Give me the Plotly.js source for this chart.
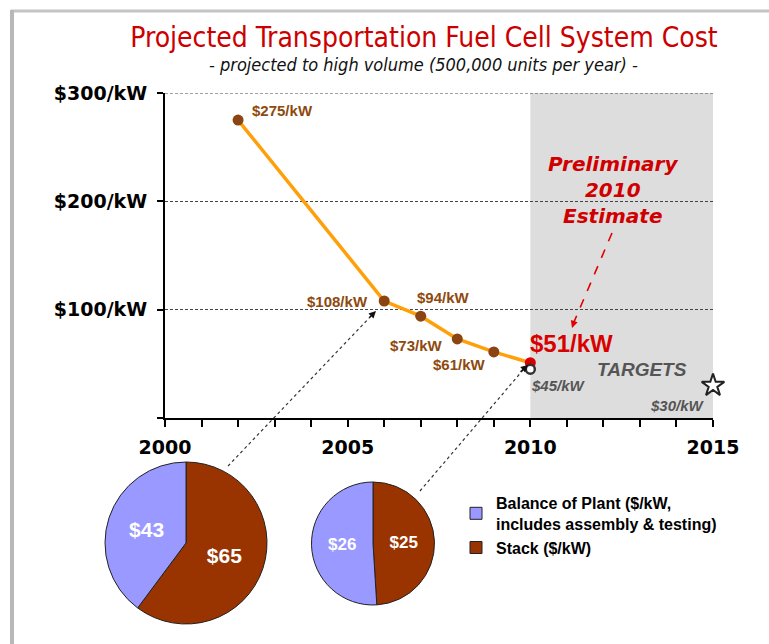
<!DOCTYPE html>
<html>
<head>
<meta charset="utf-8">
<script src="https://cdn.plot.ly/plotly-3.0.1.min.js"></script>
<style>html,body{margin:0;padding:0;background:#fff;}#chart{width:769px;height:644px;}</style>
</head>
<body>
<div id="chart"></div>
<script>
// ---- data ----
var years = [2002, 2006, 2007, 2008, 2009, 2010];
var costs = [275, 108, 94, 73, 61, 51];
var targetYears = [2010, 2015];
var targetCosts = [45, 30];
var pieLabels = ['Stack ($/kW)', 'Balance of Plant ($/kW,<br>includes assembly & testing)'];
var pie2006 = [65, 43];
var pie2010 = [25, 26];
var xTickVals = [2000,2001,2002,2003,2004,2005,2006,2007,2008,2009,2010,2011,2012,2013,2014,2015];
var xTickText = ['2000','','','','','2005','','','','','2010','','','','','2015'];
var yTickVals = [0, 100, 200, 300];
var yTickText = ['', '$100/kW', '$200/kW', '$300/kW'];
var estimateText = 'Preliminary<br>2010<br>Estimate';

var BROWN = '#8E4A0E';
var RED = '#D90000';
var GRAY = '#555555';

function lbl(v){ return '$' + v + '/kW'; }

var markerColors = costs.map(function(c, i){ return i === costs.length - 1 ? RED : '#8B4513'; });

var traces = [
  {
    type: 'scatter', mode: 'lines+markers', x: years, y: costs,
    line: {color: '#FFA00A', width: 3.5},
    marker: {color: markerColors, size: 11},
    cliponaxis: false, hoverinfo: 'skip', showlegend: false
  },
  {
    type: 'scatter', mode: 'markers', x: [targetYears[0]], y: [targetCosts[0]],
    marker: {symbol: 'circle', color: '#ffffff', size: 9, line: {color: '#333', width: 2.5}},
    cliponaxis: false, hoverinfo: 'skip', showlegend: false
  },
  {
    type: 'scatter', mode: 'markers', x: [targetYears[1]], y: [targetCosts[1]],
    marker: {symbol: 'star', color: '#ffffff', size: 17, line: {color: '#222', width: 2}},
    cliponaxis: false, hoverinfo: 'skip', showlegend: false
  },
  {
    type: 'pie', labels: pieLabels, values: pie2006,
    text: pie2006.map(function(v){ return '$' + v; }), textinfo: 'text',
    textposition: 'inside', insidetextorientation: 'horizontal',
    textfont: {family: 'Liberation Sans, Arial, sans-serif', size: 21, color: '#fff', weight: 'bold'},
    sort: false,
    marker: {colors: ['#993300', '#9999FF'], line: {color: '#222', width: 1}},
    domain: {x: [100/769, 272/769], y: [1 - 624/644, 1 - 462/644]},
    hoverinfo: 'skip', showlegend: true
  },
  {
    type: 'pie', labels: pieLabels, values: pie2010,
    text: pie2010.map(function(v){ return '$' + v; }), textinfo: 'text',
    textposition: 'inside', insidetextorientation: 'horizontal',
    textfont: {family: 'Liberation Sans, Arial, sans-serif', size: 17, color: '#fff', weight: 'bold'},
    sort: false,
    marker: {colors: ['#993300', '#9999FF'], line: {color: '#222', width: 1}},
    domain: {x: [310/769, 436/769], y: [1 - 605/644, 1 - 482/644]},
    hoverinfo: 'skip', showlegend: false
  }
];

var labelFont = {family: 'Liberation Sans, Arial, sans-serif', size: 15, color: BROWN, weight: 'bold'};
// label placement offsets (pixels)
var labelPos = [
  {xa: 'left', dx: 12, dy: 10},
  {xa: 'right', dx: -14, dy: 0},
  {xa: 'left', dx: -6, dy: 19},
  {xa: 'right', dx: -12, dy: -7},
  {xa: 'right', dx: -6, dy: -13}
];

var annotations = [];
for (var i = 0; i < years.length - 1; i++) {
  annotations.push({
    x: years[i], y: costs[i], xref: 'x', yref: 'y', text: lbl(costs[i]), showarrow: false,
    xanchor: labelPos[i].xa, yanchor: 'middle', xshift: labelPos[i].dx, yshift: labelPos[i].dy,
    font: labelFont
  });
}
var li = years.length - 1;
annotations.push({
  x: years[li], y: costs[li], xref: 'x', yref: 'y', text: lbl(costs[li]), showarrow: false,
  xanchor: 'left', yanchor: 'middle', xshift: -2, yshift: 19,
  font: {family: 'Liberation Sans, Arial, sans-serif', size: 24, color: RED, weight: 'bold'}
});
annotations.push({
  x: targetYears[0], y: targetCosts[0], xref: 'x', yref: 'y', text: lbl(targetCosts[0]), showarrow: false,
  xanchor: 'left', yanchor: 'middle', xshift: -1, yshift: -16,
  font: {family: 'Liberation Sans, Arial, sans-serif', size: 15, color: GRAY, weight: 'bold', style: 'italic'}
});
annotations.push({
  x: targetYears[1], y: targetCosts[1], xref: 'x', yref: 'y', text: lbl(targetCosts[1]), showarrow: false,
  xanchor: 'right', yanchor: 'middle', xshift: -6, yshift: -20,
  font: {family: 'Liberation Sans, Arial, sans-serif', size: 15, color: GRAY, weight: 'bold', style: 'italic'}
});
annotations.push({
  x: 642/769, y: 1 - 369/644, xref: 'paper', yref: 'paper', text: 'TARGETS', showarrow: false,
  xanchor: 'center', yanchor: 'middle',
  font: {family: 'Liberation Sans, Arial, sans-serif', size: 19, color: GRAY, weight: 'bold', style: 'italic'}
});
annotations.push({
  x: 613/769, y: 1 - 190/644, xref: 'paper', yref: 'paper', text: estimateText, showarrow: false,
  xanchor: 'center', yanchor: 'middle', align: 'center',
  font: {family: 'DejaVu Sans, sans-serif', size: 20, color: '#D00000', weight: 'bold', style: 'italic'}
});
// subtitle
annotations.push({
  x: 424/769, y: 1 - 65/644, xref: 'paper', yref: 'paper',
  text: '- projected to high volume (500,000 units per year) -', showarrow: false,
  xanchor: 'center', yanchor: 'middle',
  font: {family: 'DejaVu Sans Condensed, DejaVu Sans, sans-serif', size: 18, color: '#111', style: 'italic'}
});
// arrowheads
function head(px, py, dx, dy, color){
  return {x: px/769, y: 1 - py/644, xref: 'paper', yref: 'paper', ax: dx, ay: dy, axref: 'pixel', ayref: 'pixel',
    text: '', showarrow: true, arrowhead: 2, arrowsize: 1.1, arrowwidth: 1.3, arrowcolor: color, standoff: 0};
}
annotations.push(head(376, 311, -8, 8, '#111'));
annotations.push(head(528, 365, -9, 8, '#111'));
annotations.push(head(572, 328, 3, -9, '#E00000'));

var shapes = [
  {type: 'rect', xref: 'x', yref: 'y', x0: 2010, x1: 2015, y0: 0, y1: 300, fillcolor: '#DDDDDD', line: {width: 0}, layer: 'below'},
  {type: 'line', xref: 'x', yref: 'y', x0: 2000, x1: 2015, y0: 300, y1: 300, line: {color: '#444', width: 1, dash: '3px,2px'}},
  {type: 'line', xref: 'paper', yref: 'paper', x0: 228/769, y0: 1 - 466/644, x1: 372/769, y1: 1 - 315/644, line: {color: '#333', width: 1.2, dash: 'dot'}},
  {type: 'line', xref: 'paper', yref: 'paper', x0: 420/769, y0: 1 - 491/644, x1: 523/769, y1: 1 - 370/644, line: {color: '#333', width: 1.2, dash: 'dot'}},
  {type: 'line', xref: 'paper', yref: 'paper', x0: 612/769, y0: 1 - 233/644, x1: 574/769, y1: 1 - 322/644, line: {color: '#E00000', width: 1.6, dash: 'dash'}},
  // slide frame
  {type: 'line', xref: 'paper', yref: 'paper', x0: 11/769, y0: 1 - 11/644, x1: 1, y1: 1 - 11/644, line: {color: '#C4C4C4', width: 3}},
  {type: 'line', xref: 'paper', yref: 'paper', x0: 12/769, y0: 1 - 10/644, x1: 12/769, y1: 0, line: {color: '#B8B8B8', width: 4}}
];

var layout = {
  width: 769, height: 644,
  margin: {l: 0, r: 0, t: 0, b: 0},
  paper_bgcolor: '#ffffff', plot_bgcolor: '#ffffff',
  title: {
    text: 'Projected Transportation Fuel Cell System Cost',
    x: 424/769, xanchor: 'center', y: 1 - 37/644, yanchor: 'middle', yref: 'container',
    font: {family: 'DejaVu Sans Condensed, DejaVu Sans, sans-serif', size: 28, color: '#CC0000'}
  },
  xaxis: {
    domain: [165/769, 713/769], range: [2000, 2015],
    tickvals: xTickVals, ticktext: xTickText,
    ticks: 'outside', ticklen: 7, tickwidth: 2, tickcolor: '#000',
    showline: true, linecolor: '#000', linewidth: 2,
    showgrid: false, zeroline: false, fixedrange: true,
    ticklabelstandoff: 4,
    tickfont: {family: 'DejaVu Sans, sans-serif', size: 19, color: '#000', weight: 'bold'}
  },
  yaxis: {
    domain: [1 - 418/644, 1 - 93/644], range: [0, 300],
    tickvals: yTickVals, ticktext: yTickText,
    ticks: 'outside', ticklen: 6, tickwidth: 2, tickcolor: '#000',
    showline: true, linecolor: '#000', linewidth: 2,
    showgrid: true, gridcolor: '#444', griddash: '3px,2px', gridwidth: 1,
    zeroline: false, fixedrange: true,
    ticklabelstandoff: 6,
    tickfont: {family: 'DejaVu Sans, sans-serif', size: 19, color: '#000', weight: 'bold'}
  },
  legend: {
    x: 456/769, y: 1 - 486/644, xanchor: 'left', yanchor: 'top',
    font: {family: 'Liberation Sans, Arial, sans-serif', size: 16, color: '#000', weight: 'bold'},
    bgcolor: 'rgba(0,0,0,0)', traceorder: 'reversed', itemclick: false, itemdoubleclick: false,
    tracegroupgap: 4
  },
  annotations: annotations,
  shapes: shapes,
  hovermode: false
};

Plotly.newPlot('chart', traces, layout, {displayModeBar: false, staticPlot: true});
</script>
</body>
</html>
